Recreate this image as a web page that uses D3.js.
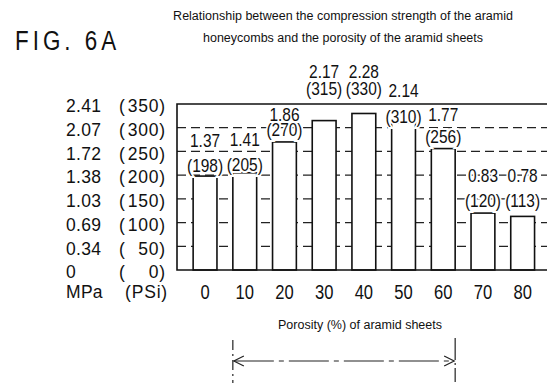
<!DOCTYPE html>
<html><head><meta charset="utf-8">
<script src="https://cdn.jsdelivr.net/npm/d3@7/dist/d3.min.js"></script>
<style>
html,body{margin:0;padding:0;background:#fff;}
svg{display:block;}
text{font-family:"Liberation Sans",Arial,sans-serif;fill:#111;}
</style></head>
<body>
<svg id="c" width="547" height="383"></svg>
<script>
// ---- data ----
const porosity = ["0","10","20","30","40","50","60","70","80"];
const strengthPsi = [198,205,270,315,330,310,256,120,113];
const strengthMpa = ["1.37","1.41","1.86","2.17","2.28","2.14","1.77","0.83","0.78"];
const psiTicks = [0,50,100,150,200,250,300,350];
const psiTickLabels = ["( 0)","( 50)","(100)","(150)","(200)","(250)","(300)","(350)"];
const mpaTickLabels = ["0","0.34","0.69","1.03","1.38","1.72","2.07","2.41"];
const rangeFrom = "10", rangeTo = "60";
// label lift above bar top (px) for [psi line, MPa line] — layout only
const labelLift = [[11,36],[8,33],[12,27],[32,49],[24.5,41.5],[6,32],[12,34],[13,38],[16,41]];

const svg = d3.select("#c");
const boxL = 177, boxT = 104, boxB = 270, boxR = 560;

const x = d3.scaleBand().domain(porosity).range([boxL+8.2, boxL+8.2+9*39.7])
  .paddingInner(0.4).paddingOuter(0.2);
const y = d3.scaleLinear().domain([0,350]).range([boxB, boxT]);

// narrow text helper
function ntext(g, tx, ty, str, size, sx, anchor, ls){
  const t = g.append("text").attr("transform",`translate(${tx},${ty}) scale(${sx},1)`)
    .attr("font-size",size).attr("dy","0.36em").text(str);
  if(anchor) t.attr("text-anchor",anchor);
  if(ls) t.attr("letter-spacing",ls);
  return t;
}

// title
svg.append("text").attr("x",343).attr("y",20).attr("text-anchor","middle")
  .attr("font-size",12.5).text("Relationship between the compression strength of the aramid");
svg.append("text").attr("x",343).attr("y",42).attr("text-anchor","middle")
  .attr("font-size",12.5).text("honeycombs and the porosity of the aramid sheets");
svg.append("text").attr("transform","translate(15,50) scale(0.8,1)")
  .attr("font-size",28).attr("letter-spacing",5).text("FIG. 6A");

// gridlines
svg.append("g").selectAll("line").data(psiTicks.filter(d=>d>0 && d<350)).join("line")
  .attr("x1",boxL).attr("x2",boxR).attr("y1",d=>y(d)).attr("y2",d=>y(d))
  .attr("stroke","#222").attr("stroke-width",1.3).attr("stroke-dasharray","9,5");

// bars
svg.append("g").selectAll("rect").data(strengthPsi).join("rect")
  .attr("x",(d,i)=>x(porosity[i])).attr("width",x.bandwidth())
  .attr("y",d=>y(d)).attr("height",d=>boxB-y(d))
  .attr("fill","#fff").attr("stroke","#111").attr("stroke-width",1.6);

// box
svg.append("path").attr("d",`M${boxR},${boxT}H${boxL}V${boxB}H${boxR}`)
  .attr("fill","none").attr("stroke","#111").attr("stroke-width",1.6);

// value labels
const vl = svg.append("g");
strengthPsi.forEach((v,i)=>{
  const cx = x(porosity[i]) + x.bandwidth()/2;
  const top = y(v);
  ntext(vl, cx, top-labelLift[i][0], "("+v+")", 18, 0.86, "middle")
    .attr("stroke","#fff").attr("stroke-width",4).attr("paint-order","stroke");
  ntext(vl, cx, top-labelLift[i][1], strengthMpa[i], 18, 0.86, "middle")
    .attr("stroke","#fff").attr("stroke-width",4).attr("paint-order","stroke");
});

// y labels (two columns)
const yl = svg.append("g");
psiTicks.forEach((t,i)=>{
  const yy = y(t)+2;
  ntext(yl, 66, yy, mpaTickLabels[i], 17.5, 1, null, 0.3);
  ntext(yl, 119, yy, "(", 17.5, 1);
  ntext(yl, 166, yy, psiTickLabels[i].slice(1).trim(), 17.5, 1, "end", 0.8);
});
ntext(yl, 66, 292, "MPa", 17.5, 1, null, 0.3);
ntext(yl, 168, 292, "(PSi)", 17.5, 1, "end", 0.8);

// x axis labels
const xa = svg.append("g").attr("transform",`translate(0,${boxB})`)
  .call(d3.axisBottom(x).tickSize(0).tickPadding(0));
xa.select(".domain").remove();
xa.selectAll("text").attr("font-size",19.5).attr("font-family",null).attr("fill","#111")
  .attr("y",null).attr("dy","0.36em").attr("transform","translate(0,22) scale(0.85,1)");

svg.append("text").attr("x",360).attr("y",329).attr("text-anchor","middle")
  .attr("font-size",12.5).text("Porosity (%) of aramid sheets");

// range arrow
const xa1 = x(rangeFrom), xa2 = x(rangeTo)+x.bandwidth();
const ay = 361;
svg.append("line").attr("x1",xa1).attr("x2",xa1).attr("y1",340).attr("y2",383)
  .attr("stroke","#222").attr("stroke-width",1.2).attr("stroke-dasharray","10,4,2,4");
svg.append("line").attr("x1",xa2).attr("x2",xa2).attr("y1",338).attr("y2",383)
  .attr("stroke","#222").attr("stroke-width",1.2).attr("stroke-dasharray","22,3,2,3,14,3");
svg.append("line").attr("x1",xa1+1).attr("x2",xa2-1).attr("y1",ay).attr("y2",ay)
  .attr("stroke","#222").attr("stroke-width",1.2).attr("stroke-dasharray","40,5,5,5");
svg.append("path").attr("d",`M${xa1+11},${ay-5}L${xa1+1},${ay}L${xa1+11},${ay+5}`)
  .attr("fill","none").attr("stroke","#222").attr("stroke-width",1.2);
svg.append("path").attr("d",`M${xa2-11},${ay-5}L${xa2-1},${ay}L${xa2-11},${ay+5}`)
  .attr("fill","none").attr("stroke","#222").attr("stroke-width",1.2);
</script>
</body></html>
